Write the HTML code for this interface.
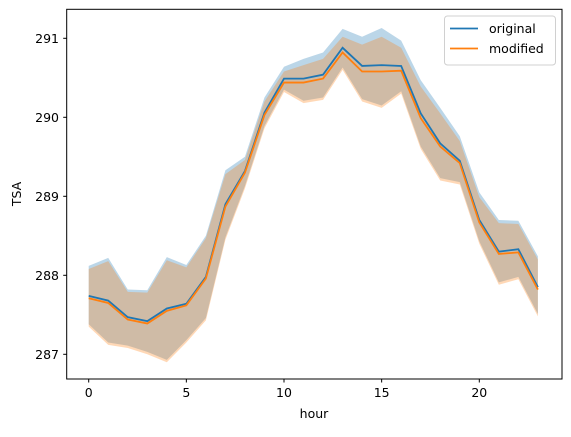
<!DOCTYPE html>
<html><head><meta charset="utf-8"><style>
body{margin:0;background:#fff;font-family:"Liberation Sans","DejaVu Sans",sans-serif}
svg text{font-family:"DejaVu Sans","Liberation Sans",sans-serif;font-size:12.5px;fill:#000}
</style></head><body>
<svg id="chart" width="571" height="432">
<g id="bands"></g><g id="lines"></g>
<rect x="66.7" y="9.3" width="495.3" height="369.7" fill="none" stroke="#000" stroke-width="1"/>
<g id="xt"></g><g id="yt"></g>
<text x="314" y="418" text-anchor="middle">hour</text>
<text transform="translate(21,194) rotate(-90)" text-anchor="middle">TSA</text>
<g>
<rect x="444.5" y="16" width="111" height="49" rx="3" fill="#fff" stroke="#ccc" opacity="0.9"/>
<line x1="450" y1="28.5" x2="478" y2="28.5" stroke="#1f77b4" stroke-width="1.8"/>
<text x="489" y="33">original</text>
<line x1="450" y1="48.5" x2="478" y2="48.5" stroke="#ff7f0e" stroke-width="1.8"/>
<text x="489" y="53">modified</text>
</g>
</svg>
<script>
const hours=[...Array(24).keys()];
const origMean=[287.74,287.68,287.47,287.42,287.58,287.64,287.98,288.90,289.32,290.06,290.49,290.49,290.54,290.88,290.65,290.66,290.65,290.05,289.67,289.45,288.70,288.30,288.33,287.85];
const origUpper=[288.12,288.22,287.82,287.81,288.23,288.13,288.50,289.33,289.50,290.25,290.64,290.74,290.82,291.12,291.02,291.13,290.97,290.47,290.12,289.76,289.05,288.70,288.69,288.24];
const origLower=[287.38,287.15,287.11,287.03,286.93,287.18,287.46,288.48,289.13,289.89,290.35,290.21,290.25,290.63,290.23,290.15,290.33,289.63,289.23,289.18,288.43,287.91,287.98,287.51];
const modMean=[287.71,287.65,287.44,287.39,287.55,287.62,287.96,288.87,289.30,290.03,290.44,290.44,290.49,290.82,290.58,290.58,290.59,289.99,289.63,289.42,288.67,288.27,288.29,287.82];
const modUpper=[288.08,288.18,287.79,287.78,288.19,288.10,288.47,289.28,289.46,290.20,290.58,290.66,290.74,291.02,290.92,291.02,290.88,290.39,290.05,289.70,288.99,288.66,288.65,288.20];
const modLower=[287.35,287.12,287.08,287.00,286.90,287.15,287.43,288.45,289.10,289.86,290.32,290.18,290.22,290.60,290.20,290.12,290.30,289.60,289.20,289.15,288.40,287.88,287.95,287.48];
const xTicks=[0,5,10,15,20];
const yTicks=[287,288,289,290,291];
const X=v=>88.7+v*19.53;
const Y=v=>354.3-(v-287)*79;
const NS='http://www.w3.org/2000/svg';
function band(g,up,lo,col,name){
  const p=document.createElementNS(NS,'path');
  let d=hours.map((h,i)=>(i?'L':'M')+X(h)+','+Y(up[i])).join('');
  for(let i=hours.length-1;i>=0;i--)d+='L'+X(hours[i])+','+Y(lo[i]);
  p.setAttribute('d',d+'Z');p.setAttribute('fill',col);p.setAttribute('fill-opacity','0.3');
  
  
  g.appendChild(p);
}
function line(g,vals,col,name){
  const p=document.createElementNS(NS,'polyline');
  p.setAttribute('points',hours.map((h,i)=>X(h)+','+Y(vals[i])).join(' '));
  p.setAttribute('fill','none');p.setAttribute('stroke',col);p.setAttribute('stroke-width','1.8');
  
  
  g.appendChild(p);
}
const bg=document.getElementById('bands'),lg=document.getElementById('lines');
band(bg,origUpper,origLower,'#1f77b4','original-band');
band(bg,modUpper,modLower,'#ff7f0e','modified-band');
line(lg,origMean,'#1f77b4','original-line');
line(lg,modMean,'#ff7f0e','modified-line');
const xt=document.getElementById('xt'),yt=document.getElementById('yt');
xTicks.forEach(t=>{
  const l=document.createElementNS(NS,'line');
  l.setAttribute('x1',X(t));l.setAttribute('x2',X(t));l.setAttribute('y1',379);l.setAttribute('y2',382.5);l.setAttribute('stroke','#000');
  xt.appendChild(l);
  const s=document.createElementNS(NS,'text');
  s.setAttribute('x',X(t));s.setAttribute('y',397);s.setAttribute('text-anchor','middle');s.textContent=t;
  
  
  xt.appendChild(s);
});
yTicks.forEach(t=>{
  const l=document.createElementNS(NS,'line');
  l.setAttribute('x1',63.2);l.setAttribute('x2',66.7);l.setAttribute('y1',Y(t));l.setAttribute('y2',Y(t));l.setAttribute('stroke','#000');
  yt.appendChild(l);
  const s=document.createElementNS(NS,'text');
  s.setAttribute('x',59);s.setAttribute('y',Y(t)+4.5);s.setAttribute('text-anchor','end');s.textContent=t;
  
  
  yt.appendChild(s);
});
</script>
</body></html>
